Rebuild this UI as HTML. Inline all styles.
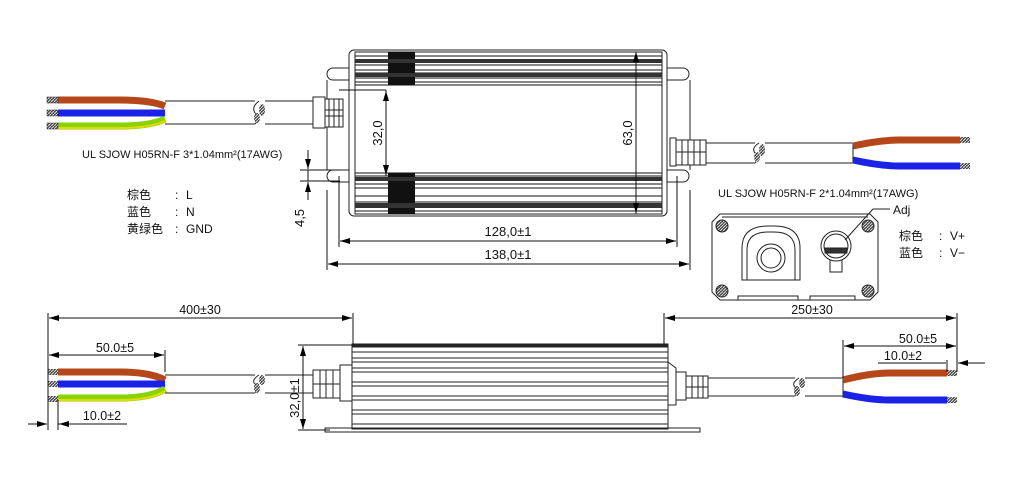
<!DOCTYPE html>
<html><head><meta charset="utf-8"><style>
html,body{margin:0;padding:0;background:#fff;width:1015px;height:478px;overflow:hidden}
svg{display:block}
text{font-family:"Liberation Sans","Noto Sans CJK SC",sans-serif;fill:#111}
</style></head><body>
<svg width="1015" height="478" viewBox="0 0 1015 478" xmlns="http://www.w3.org/2000/svg">
<defs>
<marker id="a" viewBox="0 0 10 6" refX="10" refY="3" markerWidth="10" markerHeight="6" orient="auto-start-reverse" markerUnits="userSpaceOnUse"><path d="M0,0L10,3L0,6z" fill="#000"/></marker>
<pattern id="h" width="3" height="3" patternUnits="userSpaceOnUse"><rect width="3" height="3" fill="#444"/><path d="M0,3L3,0" stroke="#ddd" stroke-width="1"/></pattern>
</defs>
<g fill="none" stroke="#222" stroke-width="1">

<path d="M349,68 H333 a6,6 0 0 0 0,12 H349"/>
<path d="M349,170 H333 a6,6 0 0 0 0,12 H349 M327,80 V170" />
<path d="M667,68 H683 a6,6 0 0 1 0,12 H667"/>
<path d="M667,170 H683 a6,6 0 0 1 0,12 H667 M690,80 V170"/>
<rect x="349" y="50" width="318" height="166" rx="5"/>
<rect x="355" y="52" width="307" height="162"/>
<g stroke="#111">
<path d="M355,56H662M355,60H662M355,65H662M355,70H662M355,73H662M355,78H662M355,82H662M355,85H662"/>
<path d="M355,173H662M355,176H662M355,180H662M355,184H662M355,188H662M355,196H662M355,202H662M355,206H662M355,211H662"/>
</g>
<rect x="388" y="52" width="27" height="33" fill="#111" stroke="none"/>
<rect x="388" y="173" width="27" height="41" fill="#111" stroke="none"/>
<rect x="355" y="59" width="307" height="4" fill="#333" stroke="none"/>
<rect x="355" y="73" width="307" height="4" fill="#333" stroke="none"/>
<rect x="355" y="177" width="307" height="4" fill="#333" stroke="none"/>
<rect x="355" y="203" width="307" height="5" fill="#333" stroke="none"/>
<path d="M636,52V214"/>
<rect x="313" y="97" width="12" height="31" fill="#fff"/>
<rect x="325" y="99" width="18" height="28" fill="#fff"/>
<path d="M329,99V127M334,99V127M339,99V127M325,110H343M325,116H343"/>
<path d="M165,101H255M165,124H255M265,101H313M265,124H313"/>
<path d="M255,124 q6,-6 0,-11 q-4,-6 4,-12" stroke-width="1"/>
<ellipse cx="262" cy="110" rx="3" ry="6" fill="url(#h)" stroke="none"/>
<ellipse cx="257" cy="118" rx="3" ry="5" fill="url(#h)" stroke="none"/>
</g>
<path d="M58,100 H120 Q150,100 165,106" stroke="#b5471b" stroke-width="7" fill="none"/>
<path d="M58,113 H165" stroke="#1a22e8" stroke-width="7" fill="none"/>
<path d="M58,126 H120 Q150,126 165,119" stroke="#86d400" stroke-width="7" fill="none"/>
<path d="M58,128 H120 Q150,128 165,121" stroke="#e6d800" stroke-width="2" fill="none"/>
<rect x="47" y="97" width="11" height="6" fill="url(#h)" stroke="#222" stroke-width=".5"/>
<rect x="47" y="110" width="11" height="6" fill="url(#h)" stroke="#222" stroke-width=".5"/>
<rect x="47" y="123" width="11" height="6" fill="url(#h)" stroke="#222" stroke-width=".5"/>

<g fill="none" stroke="#222" stroke-width="1">
<rect x="670" y="138" width="6" height="28" fill="#fff"/>
<rect x="676" y="140" width="30" height="25" fill="#fff"/>
<path d="M682,140V165M688,140V165M694,140V165M700,140V165M676,152H706"/>
<path d="M706,143H755M706,163H755M765,143H853M765,163H853M853,143V163"/>
<path d="M755,163 q6,-6 0,-10 q-4,-5 4,-10"/>
<ellipse cx="762" cy="150" rx="3" ry="6" fill="url(#h)" stroke="none"/>
<ellipse cx="757" cy="157" rx="3" ry="5" fill="url(#h)" stroke="none"/>
</g>
<path d="M853,146 Q880,140 900,140 H960" stroke="#b5471b" stroke-width="7" fill="none"/>
<path d="M853,160 Q880,166 900,166 H960" stroke="#1a22e8" stroke-width="7" fill="none"/>
<rect x="960" y="137" width="10" height="6" fill="url(#h)"/>
<rect x="960" y="163" width="10" height="6" fill="url(#h)"/>

<g stroke="#111" stroke-width="1" fill="none">
<path d="M339,90H386M386,90V176" />
<line x1="386" y1="91" x2="386" y2="175" marker-start="url(#a)" marker-end="url(#a)"/>
<line x1="636" y1="52" x2="636" y2="213" marker-start="url(#a)" marker-end="url(#a)"/>
<path d="M339,176V247M677,176V247M327,190V270M690,190V270"/>
<line x1="340" y1="241" x2="676" y2="241" marker-start="url(#a)" marker-end="url(#a)"/>
<line x1="328" y1="264" x2="689" y2="264" marker-start="url(#a)" marker-end="url(#a)"/>
<path d="M300,170H340M300,181H340"/>
<line x1="308" y1="150" x2="308" y2="169" marker-end="url(#a)"/>
<line x1="308" y1="200" x2="308" y2="182" marker-end="url(#a)"/>
<path d="M308,170V181"/>
</g>
<text x="508" y="236" font-size="13" text-anchor="middle">128,0±1</text>
<text x="508" y="259" font-size="13" text-anchor="middle">138,0±1</text>
<text transform="translate(382,133) rotate(-90)" font-size="13" text-anchor="middle">32,0</text>
<text transform="translate(632,133) rotate(-90)" font-size="13" text-anchor="middle">63,0</text>
<text transform="translate(304,218) rotate(-90)" font-size="13" text-anchor="middle">4,5</text>

<text x="82" y="158" font-size="11">UL SJOW H05RN-F 3*1.04mm²(17AWG)</text>
<text x="127" y="199" font-size="12">棕色</text><text x="175" y="199" font-size="12">:</text><text x="186" y="199" font-size="12">L</text>
<text x="127" y="216" font-size="12">蓝色</text><text x="175" y="216" font-size="12">:</text><text x="186" y="216" font-size="12">N</text>
<text x="127" y="233" font-size="12">黄绿色</text><text x="175" y="233" font-size="12">:</text><text x="186" y="233" font-size="12">GND</text>

<text x="718" y="197" font-size="11">UL SJOW H05RN-F 2*1.04mm²(17AWG)</text>
<text x="893" y="214" font-size="12">Adj</text>
<g fill="none" stroke="#222" stroke-width="1">
<path d="M873,209H890M873,209L845,240"/>
<path d="M720,214H870L878,222V292L870,300H720L712,292V222Z"/>
<path d="M722,217H868"/>
<path d="M742,280V248q0,-22 26,-22h6q26,0 26,22V280Z"/>
<path d="M747,280V250q0,-18 21,-18h6q21,0 21,18V280"/>
<circle cx="771" cy="258" r="14"/><circle cx="771" cy="258" r="10"/>
<circle cx="836" cy="246" r="15"/><circle cx="836" cy="246" r="12"/>
<path d="M830,260V272h12V260"/>
<rect x="825" y="248" width="22" height="5" fill="#333"/>
<g fill="url(#h)"><circle cx="722" cy="226" r="6"/><circle cx="868" cy="226" r="6"/><circle cx="722" cy="291" r="6"/><circle cx="868" cy="291" r="6"/></g>
<path d="M738,300v-4h60v4M810,300v-4h45v4"/>
</g>
<text x="899" y="240" font-size="12">棕色</text><text x="939" y="240" font-size="12">:</text><text x="950" y="240" font-size="12">V+</text>
<text x="899" y="257" font-size="12">蓝色</text><text x="939" y="257" font-size="12">:</text><text x="950" y="257" font-size="12">V−</text>

<g fill="none" stroke="#222" stroke-width="1">
<rect x="352" y="345" width="316" height="84"/>
<rect x="352" y="344" width="316" height="3" fill="#222"/>
<path d="M352,352H668M352,358H668M352,362H668M352,368H668M352,372H668M352,382H668M352,386H668M352,396H668M352,400H668M352,410H668M352,414H668M352,424H668"/>
<path d="M325,432V428H700V432Z"/>
<rect x="340" y="365" width="12" height="36"/>
<rect x="313" y="370" width="27" height="28" fill="#fff"/>
<path d="M320,370V398M326,370V398M333,370V398M313,384H340"/>
<path d="M668,362l8,6V405H668M676,372H686V400H676"/>
<rect x="686" y="376" width="22" height="22" fill="#fff"/>
<path d="M692,376V398M698,376V398M703,376V398M686,387H708"/>
<path d="M165,375H255M165,393H255M265,375H313M265,393H313"/>
<path d="M255,393q6,-5 0,-9q-4,-4 4,-9"/>
<ellipse cx="262" cy="380" rx="3" ry="5" fill="url(#h)" stroke="none"/>
<ellipse cx="257" cy="388" rx="3" ry="5" fill="url(#h)" stroke="none"/>
<path d="M708,378H795M708,396H795M805,378H843M805,396H843M843,378V396"/>
<path d="M795,396q6,-5 0,-9q-4,-4 4,-9"/>
<ellipse cx="802" cy="383" rx="3" ry="5" fill="url(#h)" stroke="none"/>
<ellipse cx="797" cy="391" rx="3" ry="5" fill="url(#h)" stroke="none"/>
</g>
<path d="M58,372H120Q150,372 165,380" stroke="#b5471b" stroke-width="7" fill="none"/>
<path d="M58,384H165" stroke="#1a22e8" stroke-width="7" fill="none"/>
<path d="M58,398H120Q150,398 165,389" stroke="#86d400" stroke-width="7" fill="none"/>
<path d="M58,400H120Q150,400 165,391" stroke="#e6d800" stroke-width="2" fill="none"/>
<rect x="48" y="369" width="10" height="6" fill="url(#h)"/>
<rect x="48" y="381" width="10" height="6" fill="url(#h)"/>
<rect x="48" y="396" width="10" height="6" fill="url(#h)"/>
<path d="M843,380Q870,373 890,373H947" stroke="#b5471b" stroke-width="7" fill="none"/>
<path d="M843,394Q870,400 890,400H947" stroke="#1a22e8" stroke-width="7" fill="none"/>
<rect x="947" y="370" width="10" height="6" fill="url(#h)"/>
<rect x="947" y="397" width="10" height="6" fill="url(#h)"/>

<g stroke="#111" stroke-width="1" fill="none">
<path d="M48,313V430M58,400V430M165,350V372M353,313V345M664,313V345M957,313V372M843,340V378M947,360V372"/>
<line x1="49" y1="318" x2="352" y2="318" marker-start="url(#a)" marker-end="url(#a)"/>
<line x1="665" y1="318" x2="956" y2="318" marker-start="url(#a)" marker-end="url(#a)"/>
<line x1="49" y1="355" x2="164" y2="355" marker-start="url(#a)" marker-end="url(#a)"/>
<line x1="844" y1="346" x2="956" y2="346" marker-start="url(#a)" marker-end="url(#a)"/>
<path d="M58,424H127"/><line x1="28" y1="424" x2="47" y2="424" marker-end="url(#a)"/>
<line x1="75" y1="424" x2="59" y2="424" marker-end="url(#a)"/>
<path d="M878,363H946"/><line x1="985" y1="363" x2="958" y2="363" marker-end="url(#a)"/>
<path d="M298,345H352M298,430H330"/>
<line x1="303" y1="346" x2="303" y2="429" marker-start="url(#a)" marker-end="url(#a)"/>
</g>
<text x="200" y="314" font-size="12.5" text-anchor="middle">400±30</text>
<text x="812" y="314" font-size="12.5" text-anchor="middle">250±30</text>
<text x="115" y="352" font-size="12.5" text-anchor="middle">50.0±5</text>
<text x="918" y="343" font-size="12.5" text-anchor="middle">50.0±5</text>
<text x="903" y="360" font-size="12.5" text-anchor="middle">10.0±2</text>
<text x="102" y="420" font-size="12.5" text-anchor="middle">10.0±2</text>
<text transform="translate(299,398) rotate(-90)" font-size="13" text-anchor="middle">32,0±1</text>
</svg>
</body></html>
